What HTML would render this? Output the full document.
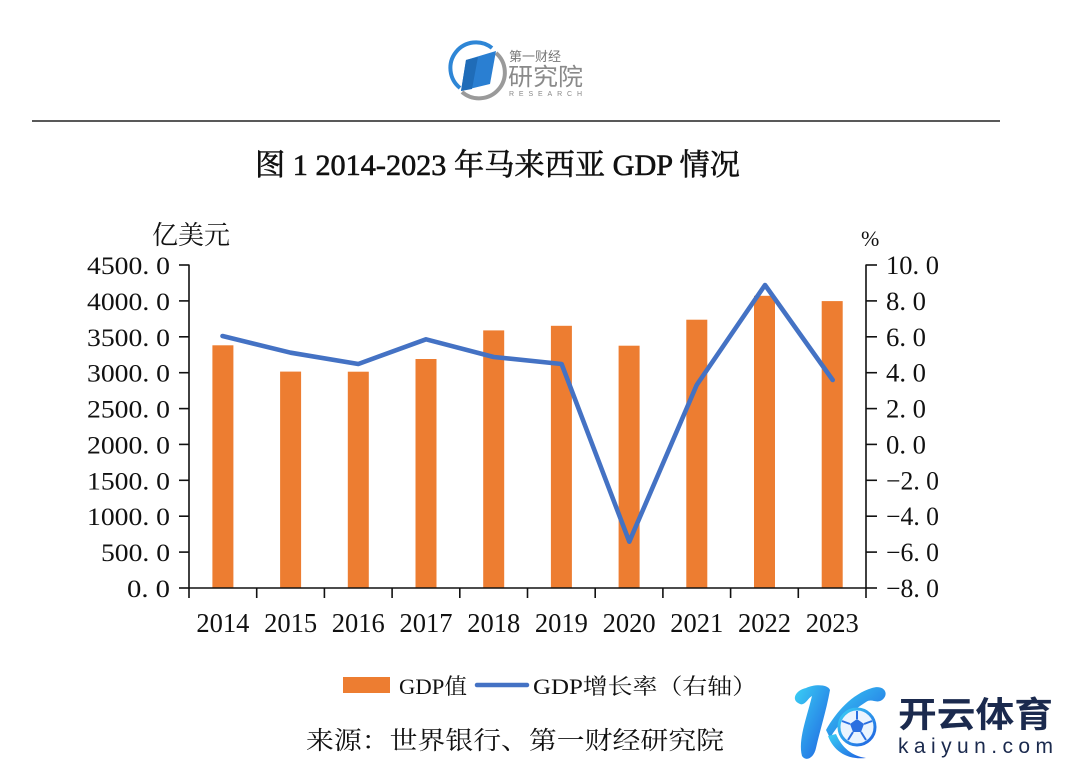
<!DOCTYPE html>
<html><head><meta charset="utf-8"><style>
html,body{margin:0;padding:0;background:#fff;}
svg{display:block;}
.s{font-family:"Liberation Serif","Noto Serif CJK SC",serif;fill:#111;}
</style></head><body>
<svg width="1069" height="781" viewBox="0 0 1069 781" xmlns="http://www.w3.org/2000/svg">
<rect width="1069" height="781" fill="#fff"/>
<!-- top logo -->
<g>
<path d="M460 88 A25 25 0 0 1 492 48" fill="none" stroke="#2e86d6" stroke-width="4"/>
<path d="M496 53 A25 25 0 0 1 462 92" fill="none" stroke="#9a9a9a" stroke-width="4"/>
<polygon points="466,60 496,51 490,84 461,91" fill="#2a7fd2"/>
<polygon points="466,60 478,57 472,89 461,91" fill="#1f6cb8"/>
<text x="509" y="61" font-family="Noto Sans CJK SC,sans-serif" font-size="13" fill="#777" textLength="52" lengthAdjust="spacingAndGlyphs">第一财经</text>
<text x="508" y="85" font-family="Noto Sans CJK SC,sans-serif" font-size="24" fill="#8a8a8a" textLength="75" lengthAdjust="spacingAndGlyphs">研究院</text>
<text x="509" y="96" font-family="Liberation Sans,sans-serif" font-size="7" fill="#888" textLength="73" lengthAdjust="spacing">RESEARCH</text>
</g>
<line x1="32" y1="121" x2="1000" y2="121" stroke="#222" stroke-width="1.5"/>
<text class="s" x="255" y="175" font-size="30" stroke="#111" stroke-width="0.6" textLength="485" lengthAdjust="spacingAndGlyphs">图 1 2014-2023 年马来西亚 GDP 情况</text>

<!-- axis titles -->
<text class="s" x="152" y="244" font-size="26" textLength="78" lengthAdjust="spacingAndGlyphs">亿美元</text>
<text class="s" x="861" y="246" font-size="22">%</text>

<!-- bars -->
<g fill="#ED7D31">
<rect x="212.4" y="345.3" width="21" height="242.7"/>
<rect x="280.1" y="371.6" width="21" height="216.4"/>
<rect x="347.8" y="371.7" width="21" height="216.3"/>
<rect x="415.5" y="359.0" width="21" height="229.0"/>
<rect x="483.2" y="330.4" width="21" height="257.6"/>
<rect x="550.9" y="325.8" width="21" height="262.2"/>
<rect x="618.6" y="345.7" width="21" height="242.3"/>
<rect x="686.3" y="319.7" width="21" height="268.3"/>
<rect x="754.0" y="295.8" width="21" height="292.2"/>
<rect x="821.7" y="301.1" width="21" height="286.9"/>
</g>

<!-- axes -->
<g stroke="#111" stroke-width="1.6" fill="none">
<line x1="189" y1="264.5" x2="189" y2="588"/>
<line x1="866" y1="264.5" x2="866" y2="588"/>
<line x1="189" y1="588" x2="866" y2="588"/>
<line x1="179" y1="588" x2="189" y2="588"/>
<line x1="179" y1="552.1" x2="189" y2="552.1"/>
<line x1="179" y1="516.2" x2="189" y2="516.2"/>
<line x1="179" y1="480.3" x2="189" y2="480.3"/>
<line x1="179" y1="444.4" x2="189" y2="444.4"/>
<line x1="179" y1="408.6" x2="189" y2="408.6"/>
<line x1="179" y1="372.7" x2="189" y2="372.7"/>
<line x1="179" y1="336.8" x2="189" y2="336.8"/>
<line x1="179" y1="300.9" x2="189" y2="300.9"/>
<line x1="179" y1="265" x2="189" y2="265"/>
<line x1="866" y1="588" x2="877" y2="588"/>
<line x1="866" y1="552.1" x2="877" y2="552.1"/>
<line x1="866" y1="516.2" x2="877" y2="516.2"/>
<line x1="866" y1="480.3" x2="877" y2="480.3"/>
<line x1="866" y1="444.4" x2="877" y2="444.4"/>
<line x1="866" y1="408.6" x2="877" y2="408.6"/>
<line x1="866" y1="372.7" x2="877" y2="372.7"/>
<line x1="866" y1="336.8" x2="877" y2="336.8"/>
<line x1="866" y1="300.9" x2="877" y2="300.9"/>
<line x1="866" y1="265" x2="877" y2="265"/>
<line x1="189" y1="588" x2="189" y2="598"/>
<line x1="256.7" y1="588" x2="256.7" y2="598"/>
<line x1="324.4" y1="588" x2="324.4" y2="598"/>
<line x1="392.1" y1="588" x2="392.1" y2="598"/>
<line x1="459.8" y1="588" x2="459.8" y2="598"/>
<line x1="527.5" y1="588" x2="527.5" y2="598"/>
<line x1="595.2" y1="588" x2="595.2" y2="598"/>
<line x1="662.9" y1="588" x2="662.9" y2="598"/>
<line x1="730.6" y1="588" x2="730.6" y2="598"/>
<line x1="798.3" y1="588" x2="798.3" y2="598"/>
<line x1="866" y1="588" x2="866" y2="598"/>
</g>

<!-- left labels -->
<g class="s" font-size="25" text-anchor="end">
<text x="170" y="597" textLength="43" lengthAdjust="spacingAndGlyphs">0. 0</text>
<text x="170" y="561.1" textLength="69" lengthAdjust="spacingAndGlyphs">500. 0</text>
<text x="170" y="525.2" textLength="83" lengthAdjust="spacingAndGlyphs">1000. 0</text>
<text x="170" y="489.3" textLength="83" lengthAdjust="spacingAndGlyphs">1500. 0</text>
<text x="170" y="453.4" textLength="83" lengthAdjust="spacingAndGlyphs">2000. 0</text>
<text x="170" y="417.6" textLength="83" lengthAdjust="spacingAndGlyphs">2500. 0</text>
<text x="170" y="381.7" textLength="83" lengthAdjust="spacingAndGlyphs">3000. 0</text>
<text x="170" y="345.8" textLength="83" lengthAdjust="spacingAndGlyphs">3500. 0</text>
<text x="170" y="309.9" textLength="83" lengthAdjust="spacingAndGlyphs">4000. 0</text>
<text x="170" y="274" textLength="83" lengthAdjust="spacingAndGlyphs">4500. 0</text>
</g>
<!-- right labels -->
<g class="s" font-size="26">
<text x="886" y="274" textLength="53" lengthAdjust="spacingAndGlyphs">10. 0</text>
<text x="886" y="309.9" textLength="40" lengthAdjust="spacingAndGlyphs">8. 0</text>
<text x="886" y="345.8" textLength="40" lengthAdjust="spacingAndGlyphs">6. 0</text>
<text x="886" y="381.7" textLength="40" lengthAdjust="spacingAndGlyphs">4. 0</text>
<text x="886" y="417.6" textLength="40" lengthAdjust="spacingAndGlyphs">2. 0</text>
<text x="886" y="453.4" textLength="40" lengthAdjust="spacingAndGlyphs">0. 0</text>
<text x="886" y="489.3" textLength="53" lengthAdjust="spacingAndGlyphs">−2. 0</text>
<text x="886" y="525.2" textLength="53" lengthAdjust="spacingAndGlyphs">−4. 0</text>
<text x="886" y="561.1" textLength="53" lengthAdjust="spacingAndGlyphs">−6. 0</text>
<text x="886" y="597" textLength="53" lengthAdjust="spacingAndGlyphs">−8. 0</text>
</g>
<!-- x labels -->
<g class="s" font-size="27" text-anchor="middle">
<text x="222.9" y="632" textLength="53" lengthAdjust="spacingAndGlyphs">2014</text>
<text x="290.6" y="632" textLength="53" lengthAdjust="spacingAndGlyphs">2015</text>
<text x="358.3" y="632" textLength="53" lengthAdjust="spacingAndGlyphs">2016</text>
<text x="426.0" y="632" textLength="53" lengthAdjust="spacingAndGlyphs">2017</text>
<text x="493.7" y="632" textLength="53" lengthAdjust="spacingAndGlyphs">2018</text>
<text x="561.4" y="632" textLength="53" lengthAdjust="spacingAndGlyphs">2019</text>
<text x="629.1" y="632" textLength="53" lengthAdjust="spacingAndGlyphs">2020</text>
<text x="696.8" y="632" textLength="53" lengthAdjust="spacingAndGlyphs">2021</text>
<text x="764.5" y="632" textLength="53" lengthAdjust="spacingAndGlyphs">2022</text>
<text x="832.2" y="632" textLength="53" lengthAdjust="spacingAndGlyphs">2023</text>
</g>

<!-- growth line -->
<polyline points="222.5,336 290.6,352.7 358.3,364 426,339.3 493.7,357 561.6,364 629.3,541.7 696.7,385 765,285 832.7,380" fill="none" stroke="#4472C4" stroke-width="4.6" stroke-linejoin="round" stroke-linecap="round"/>

<!-- legend -->
<rect x="343" y="677" width="47" height="16" fill="#ED7D31"/>
<text class="s" x="399" y="694" font-size="22" textLength="68" lengthAdjust="spacingAndGlyphs">GDP值</text>
<line x1="477" y1="685" x2="527" y2="685" stroke="#4472C4" stroke-width="4.5" stroke-linecap="round"/>
<text class="s" x="533" y="694" font-size="22" textLength="224" lengthAdjust="spacingAndGlyphs">GDP增长率（右轴）</text>

<!-- source -->
<text class="s" x="306" y="749" font-size="25" textLength="418" lengthAdjust="spacingAndGlyphs">来源：世界银行、第一财经研究院</text>

<!-- kaiyun watermark -->
<defs>
<linearGradient id="kg" x1="0" y1="0" x2="1" y2="1">
<stop offset="0" stop-color="#3ad0f5"/>
<stop offset="1" stop-color="#1f5fe0"/>
</linearGradient>
</defs>
<g>
<path d="M806 688 C796 690 790 700 800 704 C805 706 808 698 812 696 C806 720 798 740 802 756 C806 762 814 758 816 748 C820 730 826 712 830 690 C828 684 814 684 806 688 Z" fill="url(#kg)"/>
<path d="M826 730 C836 712 852 694 872 688 C884 684 890 694 882 700 C876 704 872 698 866 702 C850 712 838 724 830 738 Z" fill="url(#kg)"/>
<path d="M828 736 C834 752 848 760 866 758 C852 756 842 748 836 734 Z" fill="url(#kg)"/>
<circle cx="857" cy="727" r="18" fill="#eaf4ff" stroke="url(#kg)" stroke-width="3"/>
<polygon points="857,719 864,724 861,732 853,732 850,724" fill="#2b6fe0"/>
<path d="M857 719 L857 711 M864 724 L872 721 M861 732 L866 740 M853 732 L848 740 M850 724 L842 721" stroke="#2b6fe0" stroke-width="2"/>
<text x="898" y="727" font-family="Noto Sans CJK SC,sans-serif" font-weight="bold" font-size="35" fill="#1b2a4e" textLength="155" lengthAdjust="spacingAndGlyphs">开云体育</text>
<text x="898" y="753" font-family="Liberation Sans,sans-serif" font-size="21" fill="#1b2a4e" textLength="155" lengthAdjust="spacing">kaiyun.com</text>
</g>
</svg>
</body></html>
